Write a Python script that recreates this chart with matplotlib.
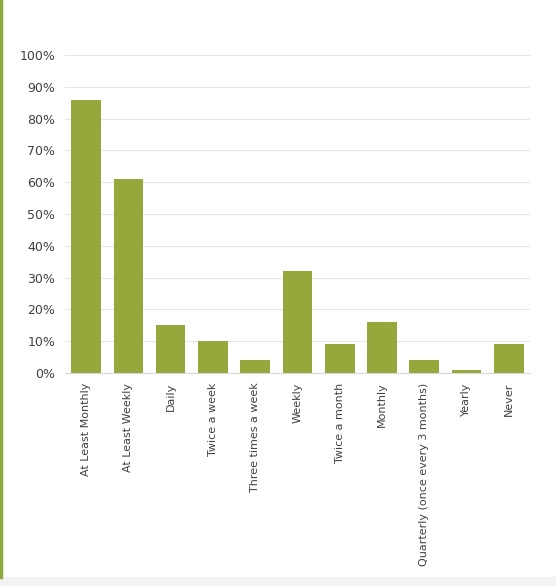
import matplotlib.pyplot as plt
from matplotlib.ticker import PercentFormatter, MultipleLocator

categories = ["At Least Monthly", "At Least Weekly", "Daily", "Twice a week",
              "Three times a week", "Weekly", "Twice a month", "Monthly",
              "Quarterly (once every 3 months)", "Yearly", "Never"]
values = [0.86, 0.61, 0.15, 0.10, 0.04, 0.32, 0.09, 0.16, 0.04, 0.01, 0.09]

bar_color = "#94A83C"
text_color = "#404040"

fig = plt.figure(figsize=(5.56, 5.86), dpi=100)
ax = fig.add_axes([0.117, 0.3635, 0.836, 0.5425])

ax.bar(range(len(categories)), values, width=0.7, color=bar_color, zorder=3)

ax.set_xlim(-0.5, len(categories) - 0.5)
ax.set_ylim(0, 1)
ax.yaxis.set_major_locator(MultipleLocator(0.1))
ax.yaxis.set_major_formatter(PercentFormatter(1.0, decimals=0))
ax.grid(axis="y", color="#e6e6e6", linewidth=0.8, zorder=0)

ax.set_xticks(range(len(categories)))
ax.set_xticklabels(categories, rotation=90, fontsize=8, color=text_color)
ax.tick_params(axis="y", labelsize=9, colors=text_color, length=0, pad=7)
ax.tick_params(axis="x", length=0, pad=7)

for side in ["top", "right", "left"]:
    ax.spines[side].set_visible(False)
ax.spines["bottom"].set_color("#d9d9d9")

# left green border and grey strip at the bottom
fig.add_artist(plt.Line2D([0.002, 0.002], [0.015, 1], color="#8FAA3C", linewidth=2.5))
fig.add_artist(plt.Rectangle((0, 0), 1, 0.015, color="#f3f3f3", transform=fig.transFigure))

plt.savefig("out.png", dpi=100)
